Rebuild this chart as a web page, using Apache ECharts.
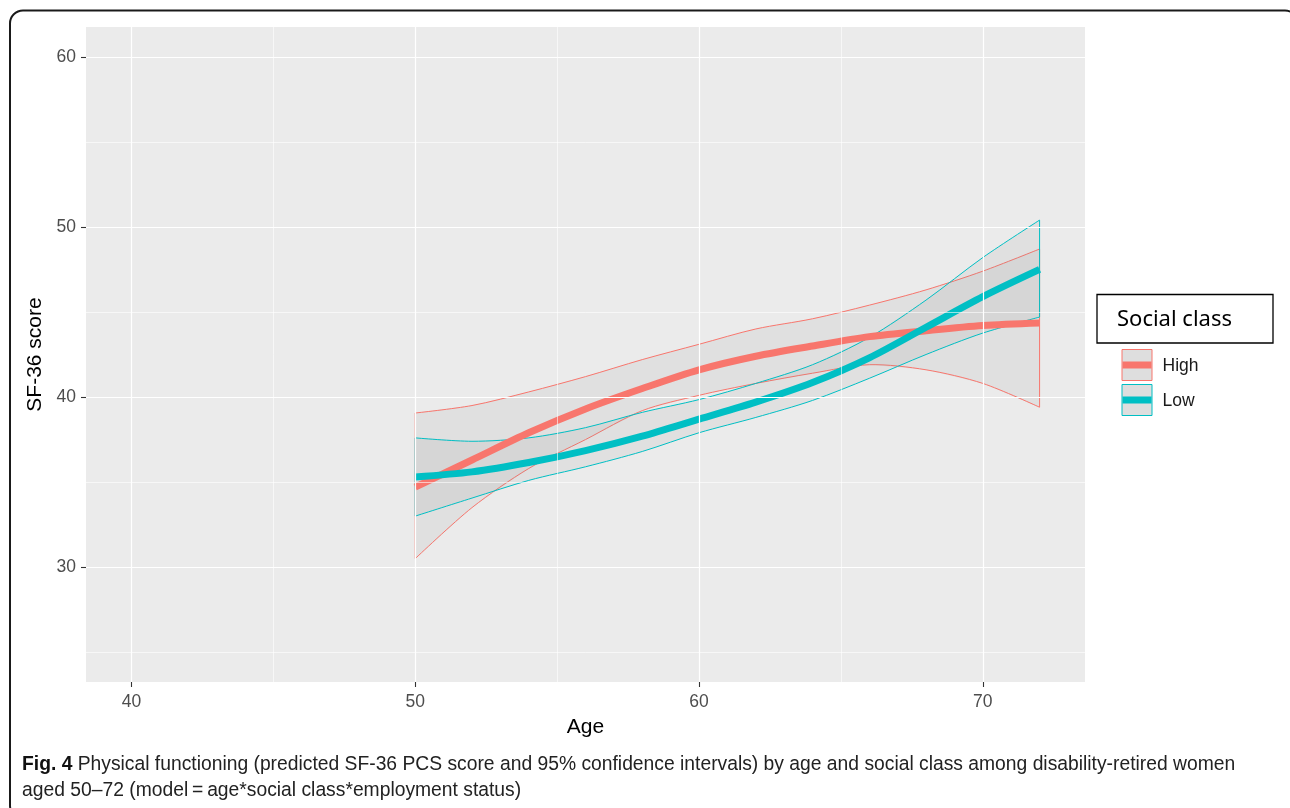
<!DOCTYPE html>
<html><head><meta charset="utf-8">
<script src="https://cdn.jsdelivr.net/npm/echarts@6/dist/echarts.min.js"></script>
<style>html,body{margin:0;padding:0;background:#fff}#c{width:1290px;height:808px}</style>
</head><body><div id="c"></div>
<script>
// ---- data ----
const ages      = [50, 52, 54, 56, 58, 60, 62, 64, 66, 68, 70, 72];
const highFit   = [34.7, 36.3, 37.9, 39.3, 40.5, 41.6, 42.4, 43.0, 43.55, 43.9, 44.2, 44.35];
const highUpper = [39.06, 39.5, 40.3, 41.2, 42.2, 43.1, 44.0, 44.6, 45.4, 46.3, 47.4, 48.7];
const highLower = [30.5, 33.5, 35.8, 37.5, 39.2, 40.1, 40.8, 41.4, 41.9, 41.6, 40.8, 39.4];
const lowFit    = [35.3, 35.6, 36.15, 36.85, 37.7, 38.7, 39.7, 40.85, 42.3, 44.1, 45.9, 47.5];
const lowUpper  = [37.6, 37.4, 37.6, 38.2, 39.1, 39.85, 40.8, 41.9, 43.5, 45.7, 48.2, 50.4];
const lowLower  = [33.0, 34.06, 35.1, 35.9, 36.8, 37.9, 38.8, 39.8, 41.1, 42.5, 43.76, 44.7];
const xMajor = [40, 50, 60, 70];
const xMinor = [45, 55, 65];
const yMajor = [30, 40, 50, 60];
const yMinor = [25, 35, 45, 55];
const legendTitle = 'Social class';
const classNames = ['High', 'Low'];
const captionBold = 'Fig. 4';
const captionLine1 = ' Physical functioning (predicted SF-36 PCS score and 95% confidence intervals) by age and social class among disability-retired women';
const captionLine2 = 'aged 50\u201372 (model\u2009=\u2009age*social class*employment status)';

const RED = '#F8766D', TEAL = '#00BFC4';
const RIBBON_FILL = 'rgba(128,128,128,0.10)';
const SMOOTH = 0.3;

function ribbonSeries(name, upper, lower, color) {
  return {
    type: 'custom', name: name + ' CI', z: 2, silent: true,
    data: ages.map((a, i) => [a, lower[i], upper[i]]),
    encode: { x: 0, y: [1, 2] },
    renderItem: function (params, api) {
      if (params.dataIndex !== 0) return null;
      const up = ages.map((a, i) => api.coord([a, upper[i]]));
      const lo = ages.map((a, i) => api.coord([a, lower[i]]));
      const poly = up.concat(lo.slice().reverse());
      const n = ages.length - 1;
      return { type: 'group', children: [
        { type: 'polygon', shape: { points: poly }, style: { fill: RIBBON_FILL, stroke: null } },
        { type: 'polyline', shape: { points: up, smooth: SMOOTH }, style: { fill: null, stroke: color, lineWidth: 1 } },
        { type: 'polyline', shape: { points: lo, smooth: SMOOTH }, style: { fill: null, stroke: color, lineWidth: 1 } },
        { type: 'line', shape: { x1: up[0][0], y1: up[0][1], x2: lo[0][0], y2: lo[0][1] }, style: { stroke: color, lineWidth: 1 } },
        { type: 'line', shape: { x1: up[n][0], y1: up[n][1], x2: lo[n][0], y2: lo[n][1] }, style: { stroke: color, lineWidth: 1 } }
      ] };
    }
  };
}
function fitSeries(name, vals, color) {
  return {
    type: 'line', name: name, z: 3, silent: true,
    data: ages.map((a, i) => [a, vals[i]]),
    symbol: 'none', smooth: SMOOTH,
    lineStyle: { color: color, width: 7, cap: 'butt', join: 'round' }
  };
}
const gridLines = [];
xMajor.forEach(v => gridLines.push({ xAxis: v, lineStyle: { width: 1.2 } }));
xMinor.forEach(v => gridLines.push({ xAxis: v, lineStyle: { width: 0.6 } }));
yMajor.forEach(v => gridLines.push({ yAxis: v, lineStyle: { width: 1.2 } }));
yMinor.forEach(v => gridLines.push({ yAxis: v, lineStyle: { width: 0.6 } }));

const FONT = 'Liberation Sans, Arial, sans-serif';
const chart = echarts.init(document.getElementById('c'), null, { renderer: 'canvas' });

function legendItem(label, color, top) {
  return {
    type: 'group', left: 1119, top: top, children: [
      { type: 'rect', shape: { x: 0.5, y: 0.5, width: 30, height: 31 },
        style: { fill: '#dedede', stroke: color, lineWidth: 1 } },
      { type: 'line', shape: { x1: 1, y1: 16, x2: 30, y2: 16 },
        style: { stroke: color, lineWidth: 7 } },
      { type: 'text', x: 41, y: 17, style: { text: label, fontSize: 17.5, fontFamily: FONT,
        fill: '#1a1a1a', verticalAlign: 'middle', align: 'left' } }
    ]
  };
}

chart.setOption({
  animation: false,
  backgroundColor: '#ffffff',
  grid: { left: 86, right: 205, top: 27, bottom: 126, show: true,
          backgroundColor: '#EBEBEB', borderWidth: 0 },
  xAxis: {
    type: 'value', min: 38.4, max: 73.6,
    name: 'Age', nameLocation: 'middle', nameGap: 35,
    nameTextStyle: { fontSize: 21, color: '#000', fontFamily: FONT },
    axisLine: { show: false },
    axisTick: { show: true, length: 5, customValues: xMajor, lineStyle: { color: '#333', width: 1.1 } },
    axisLabel: { customValues: xMajor, margin: 11, fontSize: 17.5, color: '#4D4D4D', fontFamily: FONT },
    splitLine: { show: false }
  },
  yAxis: {
    type: 'value', min: 23.25, max: 61.75,
    name: 'SF-36 score', nameLocation: 'middle', nameGap: 36, nameRotate: 90,
    nameTextStyle: { fontSize: 21, color: '#000', fontFamily: FONT },
    axisLine: { show: false },
    axisTick: { show: true, length: 5, customValues: yMajor, lineStyle: { color: '#333', width: 1.1 } },
    axisLabel: { customValues: yMajor, margin: 10, fontSize: 17.5, color: '#4D4D4D', fontFamily: FONT },
    splitLine: { show: false }
  },
  series: [
    { type: 'line', name: 'grid', z: 1, silent: true, data: [[38.4, 23.25]], symbol: 'none',
      lineStyle: { opacity: 0 },
      markLine: { silent: true, symbol: ['none', 'none'], label: { show: false }, animation: false,
        lineStyle: { color: '#ffffff', type: 'solid' }, emphasis: { disabled: true }, data: gridLines } },
    ribbonSeries('High', highUpper, highLower, RED),
    ribbonSeries('Low', lowUpper, lowLower, TEAL),
    fitSeries('High', highFit, RED),
    fitSeries('Low', lowFit, TEAL)
  ],
  graphic: [
    { type: 'rect', shape: { x: 10, y: 10.5, width: 1288, height: 808, r: 13 },
      style: { fill: 'none', stroke: '#1a1a1a', lineWidth: 2 }, silent: true },
    { type: 'rect', shape: { x: 1097, y: 294.5, width: 176, height: 48.5 },
      style: { fill: '#fff', stroke: '#000', lineWidth: 1.3 } },
    { type: 'text', x: 1117, y: 320, style: { text: legendTitle, fontSize: 22,
      fontFamily: 'Noto Sans, Open Sans, sans-serif', fill: '#000', verticalAlign: 'middle' } },
    legendItem(classNames[0], RED, 349),
    legendItem(classNames[1], TEAL, 384),
    { type: 'text', x: 22, y: 765, style: {
        text: '{b|' + captionBold + '}' + captionLine1,
        rich: { b: { fontWeight: 'bold', fontSize: 19.3, fontFamily: FONT, fill: '#111' } },
        fontSize: 19.3, fontFamily: FONT, fill: '#222', verticalAlign: 'middle' } },
    { type: 'text', x: 22, y: 791, style: { text: captionLine2,
        fontSize: 19.3, fontFamily: FONT, fill: '#222', verticalAlign: 'middle' } }
  ]
});
</script></body></html>
